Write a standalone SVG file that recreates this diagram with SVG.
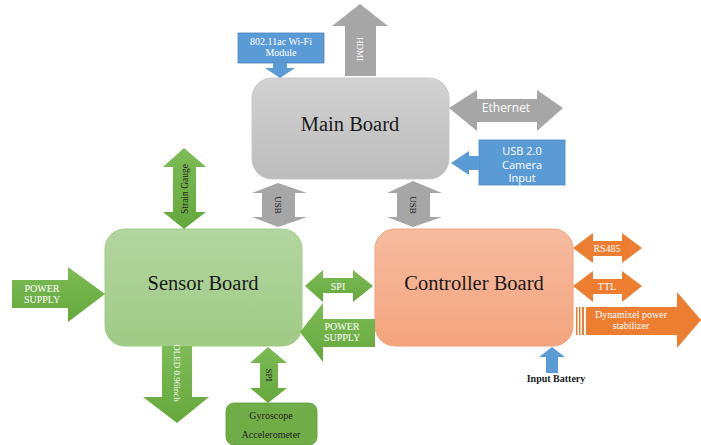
<svg xmlns="http://www.w3.org/2000/svg" width="701" height="445" viewBox="0 0 701 445">
<defs>
<linearGradient id="gGray" x1="0" y1="0" x2="0" y2="1"><stop offset="0" stop-color="#d2d2d2"/><stop offset="1" stop-color="#bcbcbc"/></linearGradient>
<linearGradient id="gGreen" x1="0" y1="0" x2="0" y2="1"><stop offset="0" stop-color="#b3d5a0"/><stop offset="1" stop-color="#9fcb85"/></linearGradient>
<linearGradient id="gSalmon" x1="0" y1="0" x2="0" y2="1"><stop offset="0" stop-color="#f6bca0"/><stop offset="1" stop-color="#f4a47e"/></linearGradient>
<linearGradient id="gArrG" x1="0" y1="0" x2="0" y2="1"><stop offset="0" stop-color="#7dbb56"/><stop offset="1" stop-color="#65a83c"/></linearGradient>
</defs>
<style>
.board{stroke-width:1}
.btxt{font-family:"Liberation Serif",serif;font-size:20.5px;fill:#1a1a1a;text-anchor:middle}
.gray{fill:#a6a6a6}
.green{fill:url(#gArrG)}
.orange{fill:#ed7d31}
.blue{fill:#5b9bd5}
.wserif{font-family:"Liberation Serif",serif;font-size:10px;fill:#ffffff;text-anchor:middle}
.dserif{font-family:"Liberation Serif",serif;font-size:10px;fill:#222222;text-anchor:middle}
.wsans{font-family:"Open Sans","Liberation Sans",sans-serif;font-size:11px;fill:#ffffff;text-anchor:middle}
</style>
<rect width="701" height="445" fill="#ffffff"/>

<g id="main-board">
<rect x="252" y="78" width="197" height="101" rx="20" fill="url(#gGray)" stroke="#c8c8c8" class="board"/>
<text x="350" y="131" class="btxt">Main Board</text>
</g>

<g id="sensor-board">
<rect x="105" y="229" width="197" height="117" rx="20" fill="url(#gGreen)" stroke="#a3cc88" class="board"/>
<text x="203" y="290" class="btxt">Sensor Board</text>
</g>

<g id="controller-board">
<rect x="375" y="229" width="198" height="117" rx="20" fill="url(#gSalmon)" stroke="#f2a07a" class="board"/>
<text x="474" y="290" class="btxt">Controller Board</text>
</g>

<g id="wifi-module">
<rect x="238" y="33" width="86" height="30" fill="#5b9bd5" stroke="#4a86c0" stroke-width="0.8"/>
<text x="281" y="45" class="wserif">802.11ac Wi-Fi</text>
<text x="281" y="56" class="wserif">Module</text>
</g>

<g id="camera-input">
<rect x="479" y="140" width="86" height="45" fill="#5b9bd5" stroke="#4a86c0" stroke-width="0.8"/>
<text x="522" y="155" class="wsans">USB 2.0</text>
<text x="522" y="168.5" class="wsans">Camera</text>
<text x="522" y="182" class="wsans">Input</text>
</g>

<g id="gyroscope">
<rect x="226" y="403" width="91" height="42" rx="8" fill="#70ad47" stroke="#5e9a3a" stroke-width="0.8"/>
<text x="271" y="419" class="dserif">Gyroscope</text>
<text x="271" y="438" class="dserif">Accelerometer</text>
</g>

<g id="connectors">
<polygon class="blue" points="273,63 287,63 287,68 295,68 280,78 265,68 273,68"/>
<polygon class="gray" points="345,76 345,26 332,26 360,4 388,26 376,26 376,76"/>
<text transform="translate(357,49) rotate(90)" class="wserif" style="font-size:9px">HDMI</text>
<polygon class="gray" points="449,108 477,90 477,99 537,99 537,90 563,108 537,131 537,122 477,122 477,131"/>
<text x="506" y="112" class="wsans" style="font-size:12px">Ethernet</text>
<polygon class="blue" points="451,163 469,151 469,156 479,156 479,170 469,170 469,175"/>
<polygon class="green" points="184,148 206,167 196,167 196,212 206,212 184,229 163,212 173,212 173,167 163,167"/>
<text transform="translate(188,189) rotate(-90)" class="dserif" style="font-size:9.5px">Strain Gauge</text>
<polygon class="gray" points="278,183 307,193 295,193 295,217 307,217 278,227 252,217 262,217 262,193 252,193"/>
<text transform="translate(275,205) rotate(90)" class="dserif" style="font-size:9px">USB</text>
<polygon class="gray" points="413,181 442,193 430,193 430,217 442,217 413,227 387,217 397,217 397,193 387,193"/>
<text transform="translate(410,205) rotate(90)" class="dserif" style="font-size:9px">USB</text>
<polygon class="green" points="12,280 68,280 68,267 105,294 68,322 68,308 12,308"/>
<text x="42" y="292" class="wserif">POWER</text>
<text x="42" y="303" class="wserif">SUPPLY</text>
<polygon class="green" points="305,286 323,270 323,278 353,278 353,270 373,286 353,302 353,293 323,293 323,302"/>
<text x="338" y="289.5" class="wserif">SPI</text>
<polygon class="green" points="300,332 323,303 323,319 375,319 375,347 323,347 323,362"/>
<text x="342" y="330" class="wserif">POWER</text>
<text x="342" y="341" class="wserif">SUPPLY</text>
<polygon class="orange" points="573,248 593,233 593,241 622,241 622,233 642,248 622,263 622,256 593,256 593,263"/>
<text x="607" y="251.5" class="wserif">RS485</text>
<polygon class="orange" points="573,286 593,271 593,279 622,279 622,271 642,286 622,302 622,294 593,294 593,302"/>
<text x="607" y="289.5" class="wserif">TTL</text>
<rect class="orange" x="576" y="307" width="1.5" height="28"/>
<rect class="orange" x="579" y="307" width="1.5" height="28"/>
<rect class="orange" x="582" y="307" width="2" height="28"/>
<polygon class="orange" points="586,307 677,307 677,292 701,320 677,348 677,335 586,335"/>
<text x="631" y="318" class="wserif">Dynamixel power</text>
<text x="631" y="329" class="wserif">stabilizer</text>
<polygon class="blue" points="546,373 546,357 539,357 552,347 565,357 558,357 558,373"/>
<text x="556" y="382" class="dserif" style="font-weight:bold">Input Battery</text>
<polygon class="green" points="162,346 192,346 192,397 209,397 177,423 143,397 162,397"/>
<text transform="translate(174,373) rotate(90)" class="wserif" style="font-size:9px">OLED 0.96inch</text>
<polygon class="green" points="268,347 287,363 278,363 278,388 287,388 268,403 250,388 260,388 260,363 250,363"/>
<text transform="translate(266,375) rotate(90)" class="dserif" style="font-size:9px">SPI</text>
</g>
</svg>
